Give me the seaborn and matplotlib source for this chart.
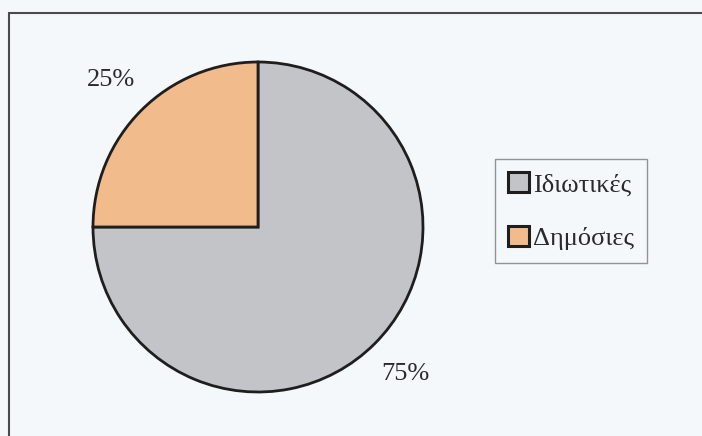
import matplotlib
matplotlib.use("Agg")
import matplotlib.pyplot as plt
from matplotlib.lines import Line2D
from matplotlib.patches import Patch
import seaborn as sns

# Share of schools by type
categories = ["Ιδιωτικές", "Δημόσιες"]
shares = [75, 25]
colors = ["#c2c4c8", "#f1bb8b"]

sns.set_theme(style="white")
plt.rcParams["font.family"] = ["Liberation Serif", "DejaVu Serif"]

bg = "#f4f8fb"
fig = plt.figure(figsize=(7.02, 4.36), dpi=100, facecolor=bg)

ax = fig.add_axes([93 / 702, 1 - 392 / 436, 330 / 702, 330 / 436])
ax.set_facecolor(bg)
wedges, texts, autotexts = ax.pie(
    shares,
    colors=colors,
    startangle=90,
    counterclock=False,
    radius=1.0,
    autopct="%d%%",
    pctdistance=1.26,
    wedgeprops=dict(edgecolor="#1e1e1e", linewidth=2.0),
    textprops=dict(fontsize=19, color="#2a2a2a"),
)
ax.set_xlim(-1, 1)
ax.set_ylim(-1, 1)
ax.set_aspect("equal")
ax.axis("off")

handles = [Patch(facecolor=c, edgecolor="#1e1e1e", linewidth=2.2) for c in colors]
leg = fig.legend(
    handles,
    categories,
    loc="center left",
    bbox_to_anchor=(495 / 702, 1 - 211 / 436),
    fontsize=19,
    frameon=True,
    fancybox=False,
    facecolor=bg,
    edgecolor="#7a7a7a",
    handlelength=0.8,
    handleheight=0.8,
    handletextpad=0.15,
    labelspacing=1.1,
    borderpad=0.5,
    borderaxespad=0,
)
leg.get_frame().set_linewidth(1.0)
for t in leg.get_texts():
    t.set_color("#2a2a2a")

# Outer frame (top and left edges)
fig.add_artist(Line2D([9 / 702, 1.0], [1 - 13 / 436, 1 - 13 / 436],
                      color="#4a4a4a", linewidth=1.5, transform=fig.transFigure))
fig.add_artist(Line2D([9 / 702, 9 / 702], [0.0, 1 - 13 / 436],
                      color="#4a4a4a", linewidth=1.5, transform=fig.transFigure))

fig.savefig("out.png", dpi=100, facecolor=bg)
